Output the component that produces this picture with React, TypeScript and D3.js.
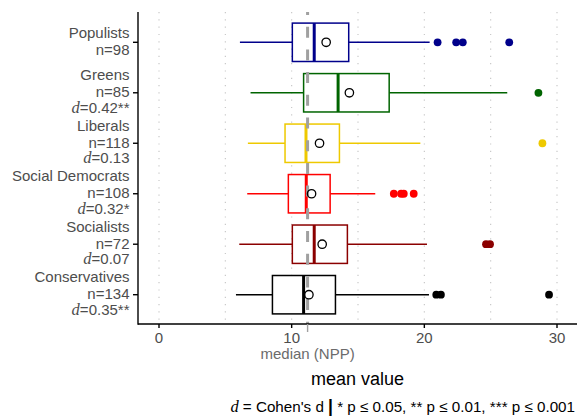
import React from 'react';
import * as d3 from 'd3';

// categories, top to bottom
const parties = ['Populists', 'Greens', 'Liberals', 'Social Democrats', 'Socialists', 'Conservatives'];
const nLabels = ['n=98', 'n=85', 'n=118', 'n=108', 'n=72', 'n=134'];
const dValues = ['', '0.42**', '0.13', '0.32*', '0.07', '0.35**'];
const colors = ['#00008B', '#006400', '#EEC900', '#FF0000', '#8B0000', '#000000'];

// box stats
const whiskerLow = [6.1, 6.9, 6.7, 6.65, 6.05, 5.8];
const q1 = [10.05, 10.9, 9.5, 9.75, 10.05, 8.55];
const medians = [11.7, 13.5, 11.08, 11.1, 11.7, 10.9];
const q3 = [14.3, 17.35, 13.6, 12.9, 14.2, 13.3];
const whiskerHigh = [20.4, 26.25, 19.7, 16.3, 20.2, 20.35];
const means = [12.6, 14.35, 12.1, 11.5, 12.3, 11.3];
const outliers = [
  [21.0, 22.4, 22.9, 26.4],
  [28.6],
  [28.9],
  [17.7, 18.25, 18.45, 19.2],
  [24.65, 24.95],
  [20.9, 21.25, 29.4],
];

const medianNPP = 11.2;
const xTicks = [0, 10, 20, 30];
const gridTicks = [0, 5, 10, 15, 20, 25, 30];

const W = 577;
const H = 417;
const panel = { left: 138, right: 577, top: 12, bottom: 324 };

const sans = "'Liberation Sans', Arial, Helvetica, sans-serif";
const serif = "'Liberation Serif', 'Times New Roman', serif";

export default function App() {
  const x = d3.scaleLinear().domain([0, 30]).range([159, 557]);
  const y = d3.scalePoint<string>().domain(parties).range([42.3, 294.7]);
  const boxH = 38.4;

  return (
    <svg width={W} height={H} style={{ position: 'absolute', left: 0, top: 0, background: '#fff' }}>
      <defs>
        <clipPath id="panel">
          <rect x={panel.left} y={panel.top} width={panel.right - panel.left} height={panel.bottom - panel.top} />
        </clipPath>
      </defs>

      {/* dotted grid */}
      {gridTicks.map(t => (
        <line key={t} x1={x(t)} x2={x(t)} y1={panel.top} y2={panel.bottom}
          stroke="#c4c4c4" strokeWidth={1.1} strokeDasharray="1.2 6.1" />
      ))}

      {/* boxplots */}
      {parties.map((p, i) => {
        const cy = y(p)!;
        const c = colors[i];
        return (
          <g key={p}>
            <line x1={x(whiskerLow[i])} x2={x(q1[i])} y1={cy} y2={cy} stroke={c} strokeWidth={1.5} />
            <line x1={x(q3[i])} x2={x(whiskerHigh[i])} y1={cy} y2={cy} stroke={c} strokeWidth={1.5} />
            <rect x={x(q1[i])} y={cy - boxH / 2} width={x(q3[i]) - x(q1[i])} height={boxH}
              fill="#fff" stroke={c} strokeWidth={1.5} />
            <line x1={x(medians[i])} x2={x(medians[i])} y1={cy - boxH / 2} y2={cy + boxH / 2}
              stroke={c} strokeWidth={3} />
            {outliers[i].map((o, j) => (
              <circle key={j} cx={x(o)} cy={cy} r={3.9} fill={c} />
            ))}
          </g>
        );
      })}

      {/* median of whole sample */}
      <g clipPath="url(#panel)">
        <line x1={x(medianNPP)} x2={x(medianNPP)} y1={panel.top} y2={panel.bottom}
          stroke="#a0a0a0" strokeWidth={3} strokeDasharray="11 11.7" strokeDashoffset={8} />
      </g>

      {/* means */}
      {parties.map((p, i) => (
        <circle key={p} cx={x(means[i])} cy={y(p)!} r={4.2} fill="none" stroke="#000" strokeWidth={1.3} />
      ))}

      {/* axes */}
      <line x1={panel.left} x2={panel.left} y1={panel.top} y2={panel.bottom + 0.7} stroke="#000" strokeWidth={1.4} />
      <line x1={panel.left} x2={panel.right} y1={panel.bottom} y2={panel.bottom} stroke="#000" strokeWidth={1.4} />

      {xTicks.map(t => (
        <g key={t}>
          <line x1={x(t)} x2={x(t)} y1={panel.bottom} y2={panel.bottom + 4} stroke="#000" strokeWidth={1.4} />
          <text x={x(t)} y={343} textAnchor="middle" fontFamily={sans} fontSize={15} fill="#4d4d4d">{t}</text>
        </g>
      ))}
      <line x1={x(medianNPP)} x2={x(medianNPP)} y1={panel.bottom} y2={panel.bottom + 8} stroke="#a0a0a0" strokeWidth={1.4} />
      <text x={x(medianNPP)} y={359} textAnchor="middle" fontFamily={sans} fontSize={15} fill="#6b6b6b">median (NPP)</text>

      {parties.map((p, i) => {
        const cy = y(p)!;
        const hasD = dValues[i] !== '';
        const offs = hasD ? [-12.3, 4.4, 20] : [-4, 12.6];
        return (
          <g key={p} fontFamily={sans} fontSize={15} fill="#4d4d4d" textAnchor="end">
            <line x1={panel.left - 5} x2={panel.left} y1={cy} y2={cy} stroke="#000" strokeWidth={1.4} />
            <text x={129.5} y={cy + offs[0]}>{p}</text>
            <text x={129.5} y={cy + offs[1]}>{nLabels[i]}</text>
            {hasD && (
              <text x={129.5} y={cy + offs[2]}>
                <tspan fontFamily={serif} fontStyle="italic" fontSize={16.5}>d</tspan>
                <tspan>={dValues[i]}</tspan>
              </text>
            )}
          </g>
        );
      })}

      <text x={(panel.left + panel.right) / 2} y={385} textAnchor="middle" fontFamily={sans} fontSize={18} fill="#000">mean value</text>

      <text x={575} y={411.5} textAnchor="end" fontFamily={sans} fontSize={15.2} fill="#000">
        <tspan fontFamily={serif} fontStyle="italic" fontSize={16.5}>d</tspan>
        <tspan> = Cohen's d </tspan>
        <tspan fontWeight="bold" fontSize={17.5}>|</tspan>
        <tspan> * p ≤ 0.05, ** p ≤ 0.01, *** p ≤ 0.001</tspan>
      </text>
    </svg>
  );
}
